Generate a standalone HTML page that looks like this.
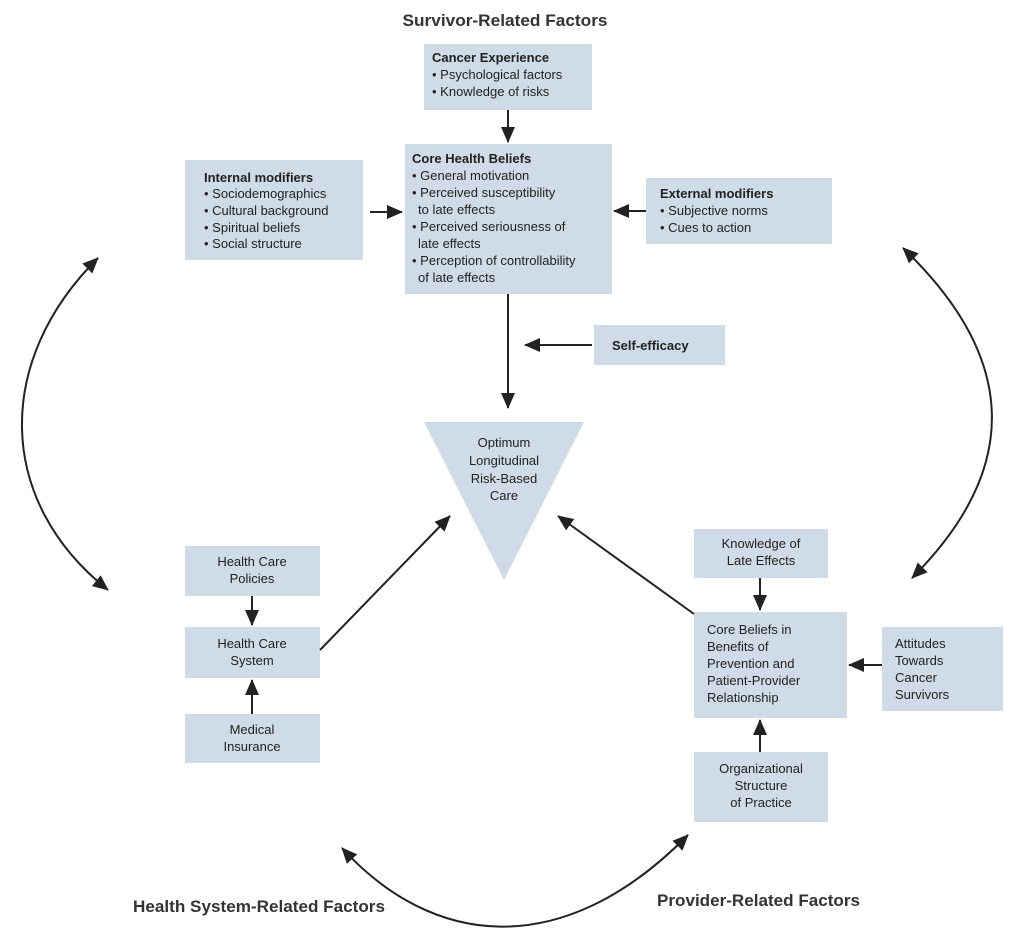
<!DOCTYPE html>
<html><head><meta charset="utf-8"><style>body{margin:0;background:#fff}svg{display:block}</style></head><body>
<svg width="1024" height="937" viewBox="0 0 1024 937" xmlns="http://www.w3.org/2000/svg" font-family="Liberation Sans, sans-serif" fill="#222">
<defs>
<marker id="b" markerWidth="16" markerHeight="14" refX="15" refY="7" orient="auto-start-reverse" markerUnits="userSpaceOnUse"><path d="M0,0 L16,7 L0,14 z" fill="#222"/></marker></defs>
<g fill="#cfdbe6">
<rect x="424" y="44" width="168" height="66"/>
<rect x="405" y="144" width="207" height="150"/>
<rect x="185" y="160" width="178" height="100"/>
<rect x="646" y="178" width="186" height="66"/>
<rect x="594" y="325" width="131" height="40"/>
<polygon points="424,422 584,422 504,580"/>
<rect x="185" y="546" width="135" height="50"/>
<rect x="185" y="627" width="135" height="51"/>
<rect x="185" y="714" width="135" height="49"/>
<rect x="694" y="529" width="134" height="49"/>
<rect x="694" y="612" width="153" height="106"/>
<rect x="882" y="627" width="121" height="84"/>
<rect x="694" y="752" width="134" height="70"/>
</g>
<g stroke="#222" stroke-width="2" fill="none">
<line x1="508" y1="110" x2="508" y2="142" marker-end="url(#b)"/>
<line x1="370" y1="212" x2="402" y2="212" marker-end="url(#b)"/>
<line x1="646" y1="211" x2="614" y2="211" marker-end="url(#b)"/>
<line x1="592" y1="345" x2="525" y2="345" marker-end="url(#b)"/>
<line x1="508" y1="294" x2="508" y2="408" marker-end="url(#b)"/>
<line x1="252" y1="596" x2="252" y2="625" marker-end="url(#b)"/>
<line x1="252" y1="714" x2="252" y2="680" marker-end="url(#b)"/>
<line x1="320" y1="650" x2="450" y2="516" marker-end="url(#b)"/>
<line x1="760" y1="578" x2="760" y2="610" marker-end="url(#b)"/>
<line x1="882" y1="665" x2="849" y2="665" marker-end="url(#b)"/>
<line x1="760" y1="752" x2="760" y2="720" marker-end="url(#b)"/>
<line x1="694" y1="614" x2="558" y2="516" marker-end="url(#b)"/>
<path d="M98,258 C-5,360 -5,500 108,590" marker-start="url(#b)" marker-end="url(#b)"/>
<path d="M903,248 C1020,360 1020,470 912,578" marker-start="url(#b)" marker-end="url(#b)"/>
<path d="M342,848 C430,945 560,965 688,835" marker-start="url(#b)" marker-end="url(#b)"/>
</g>
<g font-size="17" font-weight="bold" fill="#333">
<text x="505" y="26" text-anchor="middle" textLength="205" lengthAdjust="spacingAndGlyphs">Survivor-Related Factors</text>
<text x="133" y="912" textLength="252" lengthAdjust="spacingAndGlyphs">Health System-Related Factors</text>
<text x="657" y="906" textLength="203" lengthAdjust="spacingAndGlyphs">Provider-Related Factors</text>
</g>
<g font-size="13">
<text x="432" y="62" font-weight="bold">Cancer Experience</text>
<text x="432" y="79">• Psychological factors</text>
<text x="432" y="96">• Knowledge of risks</text>
<text x="412" y="163" font-weight="bold">Core Health Beliefs</text>
<text x="412" y="180">• General motivation</text>
<text x="412" y="197">• Perceived susceptibility</text>
<text x="418" y="214">to late effects</text>
<text x="412" y="231">• Perceived seriousness of</text>
<text x="418" y="248">late effects</text>
<text x="412" y="265">• Perception of controllability</text>
<text x="418" y="282">of late effects</text>
<text x="204" y="182" font-weight="bold">Internal modifiers</text>
<text x="204" y="198">• Sociodemographics</text>
<text x="204" y="215">• Cultural background</text>
<text x="204" y="232">• Spiritual beliefs</text>
<text x="204" y="248">• Social structure</text>
<text x="660" y="198" font-weight="bold">External modifiers</text>
<text x="660" y="215">• Subjective norms</text>
<text x="660" y="232">• Cues to action</text>
<text x="612" y="350" font-weight="bold">Self-efficacy</text>
<g text-anchor="middle">
<text x="504" y="447">Optimum</text>
<text x="504" y="465">Longitudinal</text>
<text x="504" y="483">Risk-Based</text>
<text x="504" y="500">Care</text>
<text x="252" y="566">Health Care</text>
<text x="252" y="583">Policies</text>
<text x="252" y="648">Health Care</text>
<text x="252" y="665">System</text>
<text x="252" y="734">Medical</text>
<text x="252" y="751">Insurance</text>
<text x="761" y="548">Knowledge of</text>
<text x="761" y="565">Late Effects</text>
<text x="761" y="773">Organizational</text>
<text x="761" y="790">Structure</text>
<text x="761" y="807">of Practice</text>
</g>
<text x="707" y="634">Core Beliefs in</text>
<text x="707" y="651">Benefits of</text>
<text x="707" y="668">Prevention and</text>
<text x="707" y="685">Patient-Provider</text>
<text x="707" y="702">Relationship</text>
<text x="895" y="648">Attitudes</text>
<text x="895" y="665">Towards</text>
<text x="895" y="682">Cancer</text>
<text x="895" y="699">Survivors</text>
</g>
</svg>
</body></html>
